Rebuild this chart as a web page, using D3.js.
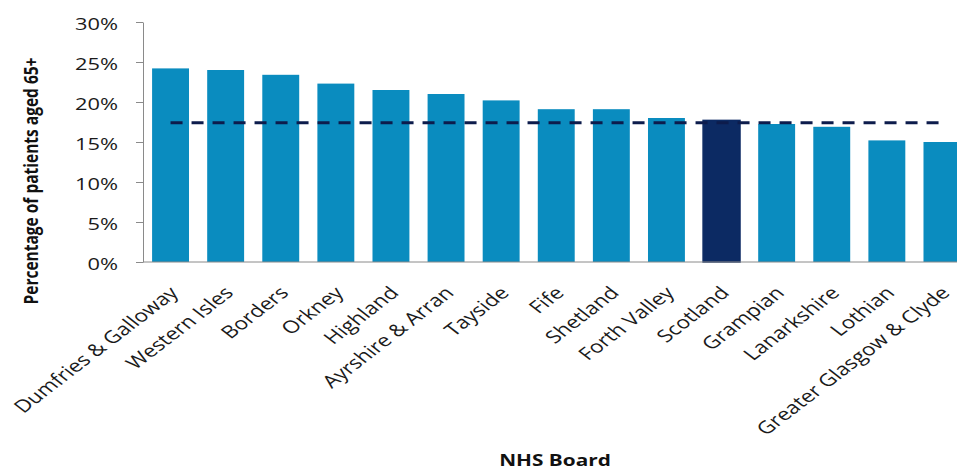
<!DOCTYPE html>
<html>
<head>
<meta charset="utf-8">
<script src="https://cdn.jsdelivr.net/npm/d3@7"></script>
<style>
  body { margin: 0; background: #fff; }
  svg { display: block; font-family: "Open Sans", sans-serif; }
</style>
</head>
<body>
<svg id="chart" width="957" height="471"></svg>
<script>
// Data
const boards = [
  "Dumfries & Galloway", "Western Isles", "Borders", "Orkney", "Highland",
  "Ayrshire & Arran", "Tayside", "Fife", "Shetland", "Forth Valley",
  "Scotland", "Grampian", "Lanarkshire", "Lothian", "Greater Glasgow & Clyde"
];
const pctAged65 = [
  24.2, 24.0, 23.4, 22.3, 21.5, 21.0, 20.2, 19.1, 19.1, 18.0,
  17.7, 17.25, 16.9, 15.2, 15.0
];
const scotlandLine = 17.4;
const yTicks = [0, 5, 10, 15, 20, 25, 30];
const highlight = "Scotland";

const SX = 1.3; // source picture is stretched sideways
const svg = d3.select("#chart");
const plotLeft = 143, plotTop = 22, plotBottom = 262, plotRight = 969.5;

// Scales
const x = d3.scaleBand()
  .domain(boards)
  .range([plotLeft, plotRight])
  .paddingInner(0.33)
  .paddingOuter(0.165);

const y = d3.scaleLinear()
  .domain([0, 30])
  .range([plotBottom, plotTop]);

// Bars
svg.append("g")
  .selectAll("rect")
  .data(boards)
  .join("rect")
  .attr("x", d => x(d))
  .attr("y", (d, i) => y(pctAged65[i]))
  .attr("width", x.bandwidth())
  .attr("height", (d, i) => y(0) - y(pctAged65[i]))
  .attr("fill", d => d === highlight ? "#0c2a63" : "#0a8cbf")
  .attr("stroke", d => d === highlight ? "#0c2a63" : "none")
  .attr("stroke-width", 1.5);

// y axis
const yAxis = svg.append("g")
  .attr("class", "y-axis")
  .attr("transform", `translate(${plotLeft},0)`)
  .call(d3.axisLeft(y).tickValues(yTicks).tickSize(7).tickSizeOuter(0)
    .tickFormat(d => d + "%"));
yAxis.select(".domain").attr("stroke", "#8a8a8a");
yAxis.selectAll(".tick line").attr("stroke", "#8a8a8a");
yAxis.selectAll(".tick text")
  .attr("x", 0)
  .attr("dy", "0.42em")
  .attr("transform", `translate(-25,0) scale(${SX},1)`)
  .attr("font-family", "Open Sans, sans-serif")
  .attr("font-size", 16.8)
  .attr("fill", "#1a1a1a");

// x axis baseline
svg.append("line")
  .attr("x1", plotLeft).attr("x2", 957)
  .attr("y1", plotBottom).attr("y2", plotBottom)
  .attr("stroke", "#8a8a8a");

// Scotland average dashed line
svg.append("line")
  .attr("x1", x(boards[0]) + x.bandwidth() / 2)
  .attr("x2", x(boards[boards.length - 1]) + x.bandwidth() / 2)
  .attr("y1", y(scotlandLine)).attr("y2", y(scotlandLine))
  .attr("stroke", "#0d1c4c")
  .attr("stroke-width", 3)
  .attr("stroke-dasharray", "12,9");

// Category labels
svg.append("g")
  .selectAll("text")
  .data(boards)
  .join("text")
  .attr("transform", d => `translate(${x(d) + x.bandwidth() / 2 + 9},${plotBottom + 32}) scale(${SX},1) rotate(-45)`)
  .attr("text-anchor", "end")
  .attr("font-size", 17.4)
  .attr("fill", "#1a1a1a")
  .text(d => d);

// Axis titles
svg.append("text")
  .attr("transform", `translate(38,181) scale(${SX},1) rotate(-90)`)
  .attr("text-anchor", "middle")
  .attr("font-size", 15.5)
  .attr("font-weight", "bold")
  .attr("fill", "#111")
  .text("Percentage of patients aged 65+");

svg.append("text")
  .attr("transform", `translate(555,466) scale(${SX},1)`)
  .attr("text-anchor", "middle")
  .attr("font-size", 16)
  .attr("font-weight", "bold")
  .attr("fill", "#111")
  .text("NHS Board");
</script>
</body>
</html>
